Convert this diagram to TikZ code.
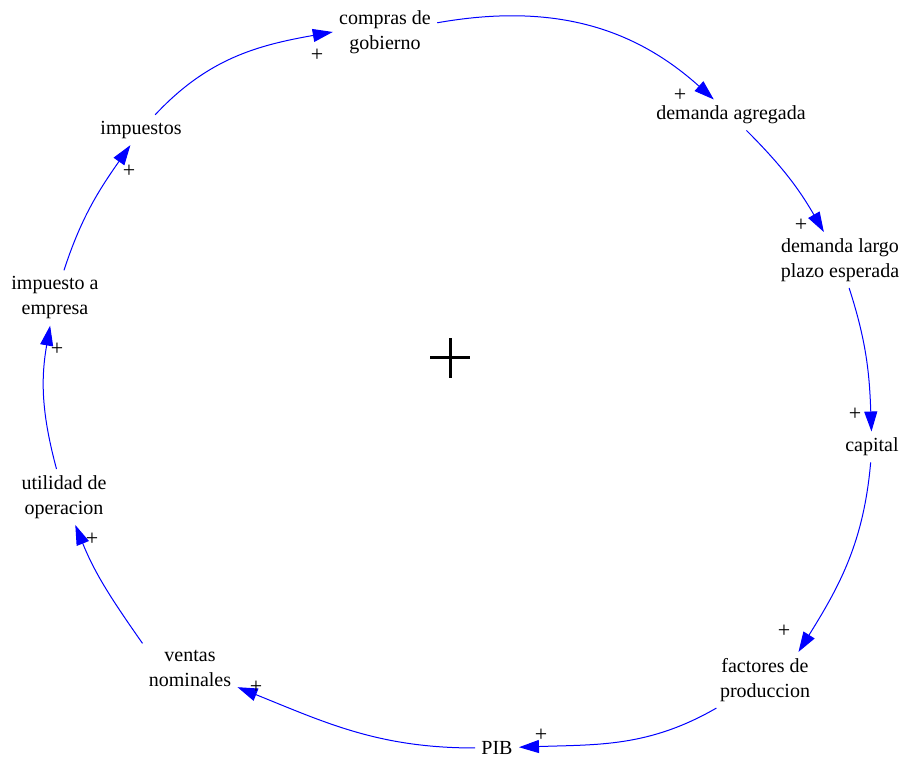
\documentclass[tikz,border=0pt]{standalone}
\usepackage{fontspec}
\setmainfont{Liberation Serif}
\usetikzlibrary{arrows.meta}

\begin{document}
\begin{tikzpicture}[x=0.5pt, y=0.5pt,
    var/.style={align=center, inner sep=3pt, font=\fontsize{10}{12.5}\selectfont},
    sgn/.style={inner sep=0pt, font=\fontsize{11}{12}\selectfont},
    link/.style={blue, line width=0.5pt, -{Triangle[length=10pt,width=6.5pt]}}]
    \useasboundingbox (0,0) rectangle (903,758);

    % Variables
    \node[var] (gov) at (385,726) {compras de\\gobierno};
    \node[var] (dem) at (731,643) {demanda agregada};
    \node[var] (dlp) at (840,498) {demanda largo\\plazo esperada};
    \node[var] (cap) at (872,311) {capital};
    \node[var] (fac) at (765,78) {factores de\\produccion};
    \node[var] (pib) at (497,10) {PIB};
    \node[var] (ven) at (190,90) {ventas\\nominales};
    \node[var] (uti) at (64,261) {utilidad de\\operacion};
    \node[var] (ime) at (55,460) {impuesto a\\empresa};
    \node[var] (imp) at (141,628) {impuestos};

    % Links
    \draw[link] (imp) to[out=47, in=190] (gov.west);
    \draw[link] (gov) to[out=10, in=138] (dem);
    \draw[link] (dem) to[out=-45, in=120] (dlp);
    \draw[link] (dlp) to[out=-72, in=92] (cap);
    \draw[link] (cap) to[out=-95, in=58] (fac.40);
    \draw[link] (fac) to[out=-150, in=2] (pib);
    \draw[link] (pib) to[out=180, in=-22] (ven);
    \draw[link] (ven.north west) to[out=125, in=-68] (uti);
    \draw[link] (uti) to[out=105, in=-100] (ime);
    \draw[link] (ime) to[out=72, in=-125] (imp);

    % Polarities
    \node[sgn] (p1) at (317,703) {+};
    \node[sgn] (p2) at (680,663) {+};
    \node[sgn] (p3) at (801,533) {+};
    \node[sgn] (p4) at (855,344) {+};
    \node[sgn] (p5) at (784,127) {+};
    \node[sgn] (p6) at (541,23) {+};
    \node[sgn] (p7) at (256,71) {+};
    \node[sgn] (p8) at (92,219) {+};
    \node[sgn] (p9) at (57,409) {+};
    \node[sgn] (p10) at (129,587) {+};

    % Loop sign
    \draw[line width=1.5pt] (430,400) -- (470,400);
    \draw[line width=1.5pt] (450,380) -- (450,420);
\end{tikzpicture}
\end{document}
